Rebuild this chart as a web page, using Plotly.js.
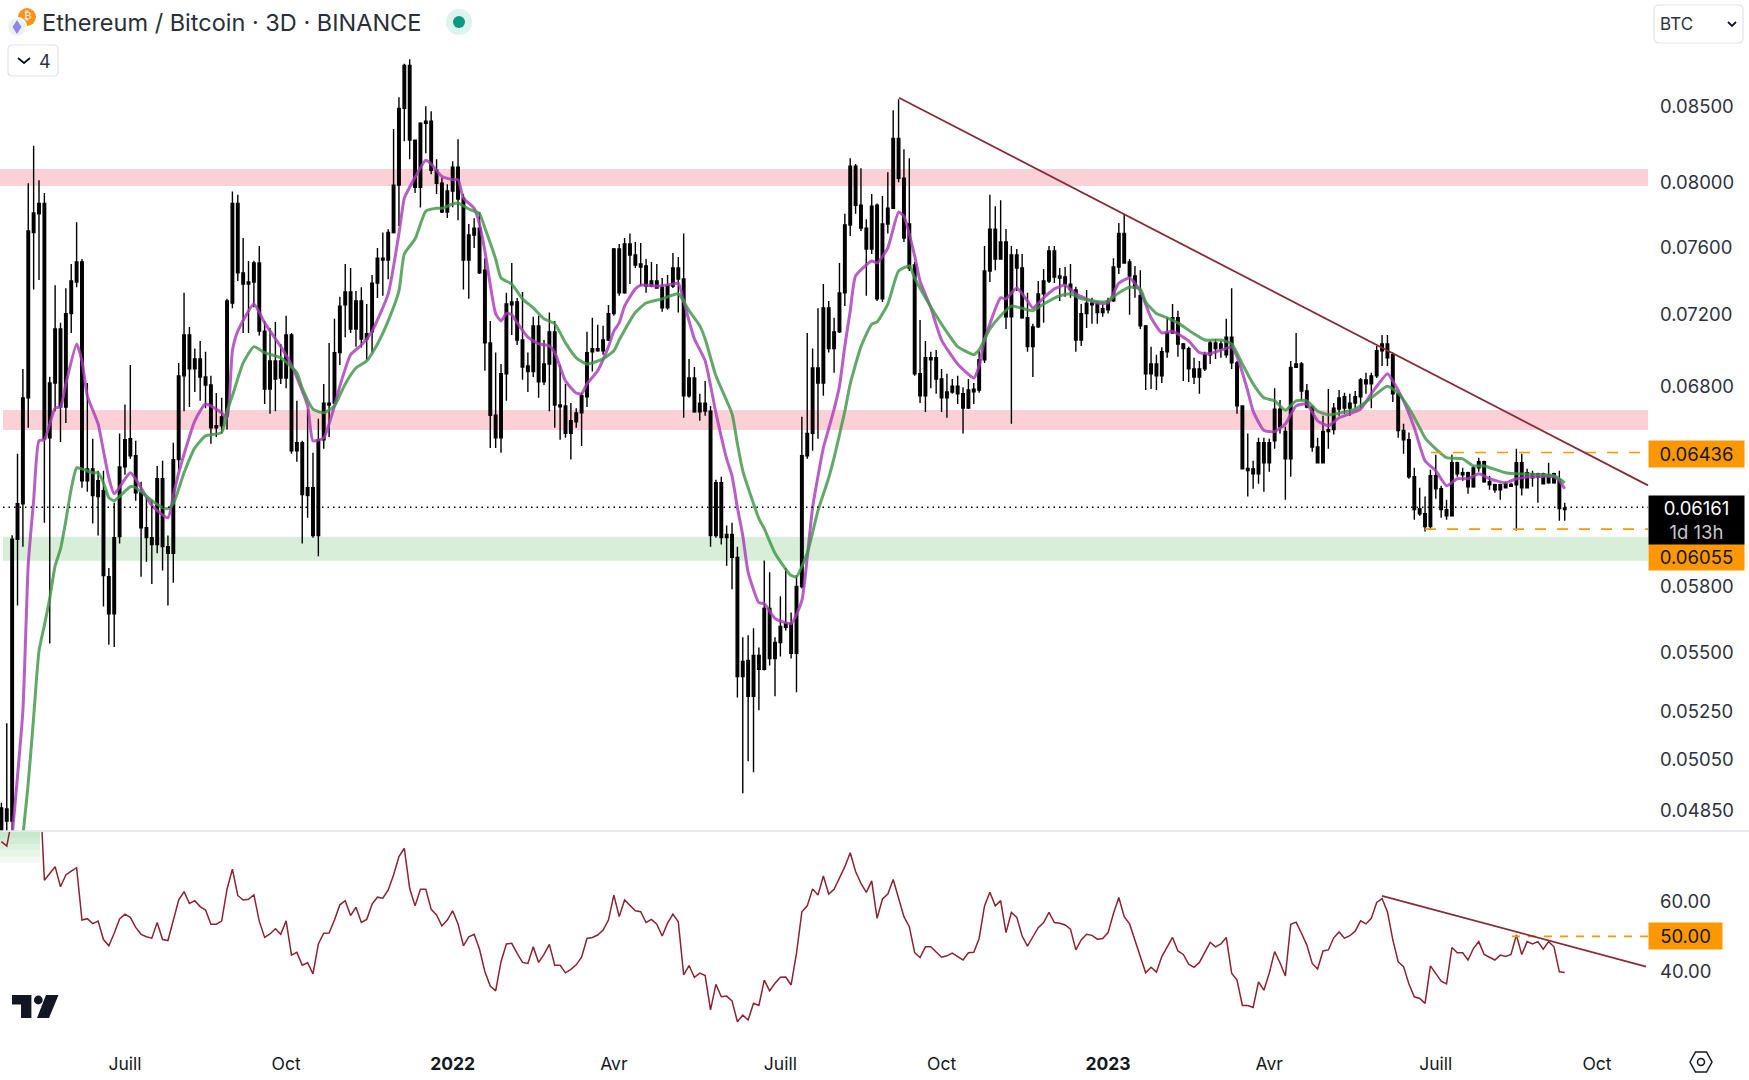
<!DOCTYPE html>
<html><head><meta charset="utf-8">
<script src="https://cdn.plot.ly/plotly-3.0.1.min.js"></script>
<style>html,body{margin:0;padding:0;background:#fff}#c{width:1749px;height:1080px}</style>
</head><body><div id="c"></div>
<script>
// All prices in 1e-5 BTC. Body top / bottom of each 3-day candle (all candles are black in the reference).
const bodyTop=[4848,4844,6006,6179,6723,7680,7790,7850,7850,6803,
7102,7102,7190,7379,7492,7492,6353,6353,6293,6243,
5830,6014,6363,6502,6507,6420,6233,6062,6014,6303,
6303,5971,6400,6842,7069,7069,6935,6935,6836,6792,
6575,6622,7263,7850,7850,7427,7373,7486,7486,7090,
6924,6924,6924,7069,7069,6487,6487,6258,6258,6502,
6695,6695,6970,7233,7315,7315,7263,7263,7075,7367,
7515,7515,7670,7965,8468,8763,8763,8256,8368,8381,
8381,8060,7977,7928,8080,8080,7883,7655,7697,7697,
7443,7024,6630,6853,7245,7257,7257,7040,6896,7120,
7120,6907,7086,7086,6685,6680,6601,6643,6734,6970,
6992,6992,7040,7190,7570,7570,7600,7600,7534,7480,
7468,7379,7379,7343,7350,7456,7456,7391,6830,6830,
6695,6695,6652,6283,6283,6029,6029,5920,5449,5453,
5475,5475,5684,5684,5532,5603,5616,5616,5784,6420,
6535,6885,6885,7223,7223,7086,7310,7716,8086,8086,
7839,7697,7833,7839,7722,7820,8268,8268,8009,7722,
7474,6853,6941,6941,6941,6825,6754,6786,6786,6745,
6765,6770,6930,7438,7691,7691,7612,7612,7534,7534,
7456,7166,7114,7304,7379,7558,7558,7409,7403,7361,
7327,7190,7250,7250,7245,7218,7263,7462,7664,7664,
7492,7409,7293,7120,6907,6907,6975,7080,7166,7166,
7018,6992,6880,6880,6958,7024,7024,7018,7056,7056,
6913,6680,6355,6353,6487,6487,6487,6663,6663,6545,
6888,6907,6907,6760,6674,6465,6545,6555,6668,6723,
6729,6695,6729,6820,6820,6842,6980,7018,7018,6958,
6745,6550,6502,6313,6155,6130,6318,6318,6253,6150,
6384,6384,6333,6333,6358,6389,6389,6288,6273,6273,
6278,6275,6384,6384,6333,6328,6328,6328,6323,6328,
6298,6158];
const bodyBot=[4755,4798,4798,6006,6179,6723,7670,7785,6507,6512,
6803,6674,6674,7190,7373,6293,6293,6219,6214,5835,
5660,5660,6019,6363,6420,6233,6062,6014,5981,5981,
5971,5940,5940,6400,6842,6880,6880,6836,6792,6565,
6565,6575,6627,7250,7427,7361,7361,7373,7090,6770,
6770,6825,6830,6830,6445,6445,6224,6219,6024,6024,
6502,6685,6695,6970,7240,7102,7102,7046,7046,7086,
7367,7504,7504,7670,7965,8468,8256,7952,7952,8368,
8060,7977,7796,7796,7928,7877,7504,7504,7655,7427,
7024,6630,6512,6512,6853,7240,7040,6890,6865,6865,
6809,6809,6907,6685,6675,6535,6535,6596,6643,6729,
6975,6980,6980,7040,7190,7310,7310,7534,7474,7462,
7350,7350,7338,7223,7223,7350,7391,6734,6734,6648,
6648,6652,6024,6024,6014,6014,5920,5384,5384,5300,
5300,5415,5415,5462,5462,5532,5599,5484,5484,5784,
6420,6535,6803,6803,6992,6992,7086,7310,7716,7839,
7697,7570,7570,7275,7275,7722,7820,8009,7636,7456,
6853,6734,6734,6930,6825,6723,6723,6754,6745,6668,
6668,6755,6765,6930,7438,7510,7510,7172,7172,7456,
7166,7003,7003,7114,7304,7379,7403,7397,7361,7327,
7040,7040,7190,7240,7196,7196,7212,7263,7462,7486,
7409,7338,7120,6853,6853,6842,6842,6975,7080,7018,
6992,6880,6836,6836,6880,6958,6992,6992,6958,6913,
6680,6353,6345,6328,6328,6384,6384,6497,6570,6404,
6404,6888,6760,6674,6465,6384,6384,6545,6555,6663,
6668,6668,6695,6729,6798,6798,6842,6980,6941,6745,
6550,6502,6313,6150,6130,6067,6067,6253,6150,6120,
6120,6328,6323,6263,6263,6358,6288,6273,6248,6248,
6258,6265,6273,6258,6258,6308,6313,6278,6283,6283,
6155,6150];
const highs=[4868,5187,6025,6430,6880,7978,8220,7996,7915,6837,
7355,7137,7336,7480,7733,7510,6803,6507,6343,6343,
5870,6184,6535,6687,6902,6497,6288,6209,6199,6368,
6394,6024,6487,6913,7310,7114,6992,7035,6974,6842,
6749,6723,7275,7925,7905,7636,7498,7500,7588,7148,
7108,7142,7018,7178,7080,6707,6497,6663,6435,6612,
6798,7024,7160,7287,7480,7456,7321,7343,7245,7415,
7576,7670,7690,8330,8543,8775,8806,8256,8375,8482,
8448,8132,8010,7971,8119,8262,7909,7722,7758,7796,
7515,7148,6970,6907,7310,7486,7280,7315,6970,7172,
7178,7040,7196,7148,6902,6798,6695,6668,6750,7086,
7166,7126,7120,7240,7576,7600,7636,7664,7612,7606,
7510,7492,7480,7397,7415,7546,7522,7664,6935,6890,
6745,6814,6680,6298,6313,6072,6086,5971,5555,5564,
5595,5510,5905,5850,5555,5739,5870,5666,5835,6622,
7080,6992,7220,7361,7263,7166,7486,7785,8138,8100,
8073,7752,7909,7850,7896,8047,8455,8530,8197,8138,
7492,7154,7035,6975,6985,6880,6853,6825,6842,6780,
6825,6803,6980,7588,7905,7833,7870,7691,7588,7570,
7540,7310,7132,7379,7450,7588,7588,7456,7462,7480,
7345,7245,7327,7281,7263,7245,7281,7515,7728,7785,
7510,7468,7443,7125,7003,6958,7000,7166,7245,7207,
7024,7003,6941,6924,6975,7035,7046,7035,7160,7336,
6924,6680,6535,6394,6512,6512,6507,6775,6712,6570,
6924,7080,6918,6798,6685,6512,6628,6770,6695,6765,
6750,6745,6760,6830,6859,6859,7007,7069,7069,6970,
6750,6585,6540,6358,6258,6214,6348,6425,6268,6199,
6425,6389,6358,6338,6368,6410,6394,6318,6278,6278,
6288,6283,6455,6430,6353,6343,6333,6333,6384,6333,
6343,6184];
const lows=[4700,4760,4760,5697,5971,6565,7330,7385,6086,5527,
6652,6490,6590,7080,7343,6258,6238,6082,6024,5693,
5522,5512,5986,6323,6404,6194,5830,5900,5796,5940,
5859,5697,5802,6348,6652,6674,6754,6707,6668,6481,
6517,6535,6555,7220,7379,7080,7080,7226,7065,6690,
6638,6652,6798,6775,6430,6389,5986,6110,6014,5925,
6455,6517,6690,6902,7056,7080,7003,6998,6930,6970,
7280,7293,7390,7664,7710,8249,8132,7915,7825,8170,
8035,7909,7790,7760,7826,7746,7330,7275,7576,7420,
6870,6460,6460,6435,6707,7069,7012,6820,6754,6836,
6723,6792,6652,6565,6502,6512,6400,6565,6470,6674,
6865,6975,6958,7035,7178,7293,7304,7361,7456,7350,
7310,7343,7338,7201,7212,7338,7196,6617,6723,6643,
6601,6628,5971,6014,5981,5881,5772,5295,4905,5032,
4988,5241,5410,5431,5300,5470,5585,5462,5317,5775,
6404,6445,6507,6734,6970,6859,7080,7233,7648,7785,
7680,7293,7540,7263,7257,7664,7815,7984,7612,7438,
6842,6695,6648,6775,6745,6648,6617,6745,6690,6535,
6663,6690,6750,6913,7373,7443,7510,7102,6585,7321,
7160,6975,6836,7108,7137,7367,7367,7263,7287,7281,
6975,7007,7108,7132,7132,7172,7190,7257,7420,7486,
7184,7281,7102,6765,6770,6765,6803,6941,7075,6947,
6814,6809,6798,6745,6869,6907,6935,6941,6941,6880,
6638,6350,6214,6253,6278,6238,6338,6455,6535,6199,
6313,6885,6707,6668,6440,6384,6384,6455,6530,6628,
6638,6628,6668,6668,6745,6668,6830,6896,6896,6701,
6512,6430,6303,6100,6120,6043,6057,6204,6110,6100,
6120,6313,6293,6228,6258,6338,6283,6248,6233,6199,
6258,6263,6048,6219,6258,6263,6184,6278,6278,6278,
6096,6096];

// Purple moving average: bar numbers and values read at those bars
const purpleBars=[2,4,5,6,7,8,10,11,12,14,
15,16,18,19,20,21,24,26,28,31,
32,33,36,38,41,42,43,44,47,49,
52,54,57,58,60,62,63,65,67,69,
72,74,75,76,79,80,82,84,85,86,
88,89,90,92,93,94,95,96,98,100,
102,103,105,107,108,109,111,113,114,115,
116,118,119,122,125,126,127,128,129,131,
133,135,136,137,138,139,141,142,144,147,
149,150,151,153,154,155,156,157,158,159,
162,163,165,167,168,170,171,173,175,178,
181,182,183,186,187,189,191,192,194,196,
198,200,204,206,208,210,212,214,216,218,
221,223,225,229,230,232,233,235,237,239,
241,243,245,247,249,253,255,258,259,261,
263,265,267,269,271,273,275,277,280,282,
285,289,290,291];
const purpleVals=[4740,5240,5890,6194,6497,6502,6668,6674,6798,7018,
6924,6734,6585,6445,6308,6228,6333,6258,6170,6110,
6219,6333,6601,6690,6643,6617,6980,7090,7245,7137,
7003,6902,6680,6497,6512,6680,6786,6958,7012,7090,
7304,7664,7883,7952,8125,8100,8020,8000,8000,7883,
7820,7722,7558,7190,7148,7190,7184,7137,7056,7018,
7007,6970,6814,6749,6745,6798,6870,7003,7090,7137,
7233,7333,7355,7350,7361,7367,7263,7148,7046,6924,
6643,6404,6318,6160,6024,5850,5710,5706,5639,5616,
5720,5920,6160,6460,6560,6663,6786,7007,7205,7409,
7498,7486,7576,7796,7770,7528,7379,7223,7040,6907,
6830,6896,7040,7281,7275,7338,7263,7223,7281,7333,
7355,7304,7251,7251,7367,7397,7321,7166,7080,7090,
7035,6970,6964,7000,6947,6760,6652,6550,6545,6585,
6680,6690,6601,6575,6617,6663,6745,6853,6814,6707,
6565,6394,6343,6268,6303,6303,6328,6303,6283,6303,
6313,6313,6293,6253];
// Green moving average
const greenBars=[4,5,6,7,8,9,10,11,12,13,
14,15,17,18,19,20,21,24,25,28,
30,31,32,34,36,38,41,42,43,45,
47,49,52,55,56,58,60,62,64,66,
68,70,72,74,75,77,79,81,82,84,
85,87,89,90,92,93,95,97,99,101,
103,105,107,109,112,114,115,118,120,123,
126,128,130,131,133,136,137,138,139,141,
142,144,147,148,150,152,154,155,157,158,
160,162,163,165,167,169,170,172,175,178,
180,181,182,184,186,188,191,192,194,197,
199,201,205,206,208,210,212,213,215,217,
219,222,224,227,229,231,233,235,237,239,
241,243,245,247,252,255,258,260,262,264,
265,267,269,272,274,276,280,282,289,291];
const greenVals=[4740,4945,5212,5495,5608,5730,5880,5960,6096,6253,
6358,6353,6333,6333,6283,6209,6194,6263,6258,6194,
6160,6155,6179,6333,6460,6522,6540,6652,6734,6913,
7003,6970,6941,6859,6775,6663,6643,6680,6798,6885,
6924,7018,7148,7321,7540,7630,7802,7820,7820,7846,
7852,7815,7786,7697,7510,7397,7361,7275,7223,7160,
7132,7024,6941,6907,6935,6980,7040,7196,7251,7275,
7304,7207,7120,7046,6842,6638,6481,6343,6258,6106,
6057,5940,5835,5830,5940,6145,6308,6410,6652,6798,
7003,7130,7142,7245,7438,7468,7397,7281,7130,7003,
6970,6958,6985,7102,7178,7233,7212,7207,7245,7293,
7304,7275,7257,7263,7310,7343,7333,7257,7190,7166,
7137,7075,7040,7040,7018,6907,6798,6723,6707,6657,
6707,6707,6652,6633,6663,6723,6786,6749,6668,6565,
6512,6455,6410,6404,6368,6368,6333,6328,6318,6283];
// RSI, one value per bar
const rsiVals=[77.3,76.0,84,90,92,93,92,98,66.2,68.2,
70.1,64.3,67.7,68.8,69.8,54.7,55.1,53.7,54.4,49.1,
47.3,50.9,55,56.4,55.5,52.6,50.6,49.9,49.5,54,
49.1,48.8,54.7,60.5,62.9,59.5,60.3,58.6,57.6,53.5,
53.5,54.4,63.6,69.4,61.8,60.5,60.7,62,54.4,49.7,
50.7,52.2,50.6,54.5,44.6,45.4,41.7,42.4,39.2,47.8,
50.9,51,54.7,59.1,60.3,56,58.4,54,54.9,59.3,
61.3,61,63.4,67.7,73,75.4,63.8,58.8,63.6,63.6,
57.8,56.2,53,54.7,57.4,53.6,47.3,49.9,50.6,46.3,
39.8,35.7,34.3,42.7,47.8,48,45.1,42.5,42.2,47,
42.5,44.8,47.7,41.7,41.7,39.5,40.5,41.8,44,49.4,
49.7,50.4,51.8,54.7,61.9,55.7,60.5,58.8,57.4,57.1,
54,54.9,53.5,50.1,53.8,56.4,54.2,38.9,41.6,38.2,
39.4,38.7,28.8,36.2,32.6,32.8,31.4,25.4,27.3,25.9,
30.7,30.1,37.4,34.3,36.5,38.2,38.3,36,45.1,57.1,
58.8,63.7,61.9,67.4,62.2,63.6,66.7,70.1,74.1,68.7,
65.3,62.7,66,55.2,60.8,62.2,66.4,61,55.7,52.8,
45.3,43.9,47,47,45.5,44,44.4,45.2,44.2,43.2,
45.3,45.4,49.4,58.8,62.7,58.8,60.3,51.1,56.9,55.5,
50.1,47.2,49.9,52.5,54,56.9,54,53.8,53.3,52.1,
46.1,49,50.6,50.3,49.2,49.4,51.1,56.6,61.2,55.7,
53.6,49,44.2,39.5,41.1,39.7,44.2,47,49.7,45.8,
44.8,42,41.1,42.5,45.6,48.3,47,47.8,49.7,39.4,
37.4,30.1,30.1,29.5,36.9,34.5,39.4,45.6,42.4,38.6,
53.5,54.1,50.9,47.5,42.2,40.6,45.8,46.1,49.6,51.3,
49.5,50.2,51.5,54.5,53.6,55.2,59.8,60.9,57.1,49,
42.7,41.3,36.3,32.6,32.1,30.7,41.5,39.4,37.1,36.3,
46.8,45.3,45.3,43.2,46.5,48.5,44.8,44,43.2,44.6,
44.2,44.8,50.4,44.8,48.5,47.8,48.5,46.3,48.5,47,
39.8,39.6];

const tickBars=[23,53,84,114,145,175,206,236,267,297];
const tickLabels=['Juill','Oct','<b>2022</b>','Avr','Juill','Oct','<b>2023</b>','Avr','Juill','Oct'];
const priceTicks=[0.085,0.08,0.076,0.072,0.068,0.058,0.055,0.0525,0.0505,0.0485];
const priceTickLabels=['0.08500','0.08000','0.07600','0.07200','0.06800','0.05800','0.05500','0.05250','0.05050','0.04850'];
const rsiTicks=[60,40];
const rsiTickLabels=['60.00','40.00'];
const zones=[{lo:7960,hi:8068,c:'#FBD0D6',fromLeft:0},{lo:6553,hi:6658,c:'#FBD0D6',fromLeft:3},{lo:5904,hi:6018,c:'#D8EED8',fromLeft:3}];
const lastPrice=6161, levelHigh=6436, levelLow=6055;

const T0=Date.UTC(2021,3,23), DAY=864e5;
const barDate=i=>new Date(T0+i*3*DAY).toISOString().slice(0,19);
const e5=v=>v/1e5;
const W=1648,PH=1040;
const px=x=>x/W, py=y=>1-y/PH;
const INK='#131722', AXIS='#2E3240', RED='#862B38', ORANGE='#FF9800', BORDER='#E0E3EB';
const FONT='Inter, "Noto Sans", sans-serif';
const allBars=bodyTop.map((_,i)=>barDate(i));

const traces=[
 {type:'candlestick',x:allBars,open:bodyBot.map(e5),close:bodyTop.map(e5),high:highs.map(e5),low:lows.map(e5),
  increasing:{line:{color:'#000',width:1.4},fillcolor:'#000'},decreasing:{line:{color:'#000',width:1.4},fillcolor:'#000'},
  whiskerwidth:0,xaxis:'x',yaxis:'y',hoverinfo:'skip',showlegend:false},
 {type:'scatter',mode:'lines',x:purpleBars.map(barDate),y:purpleVals.map(e5),line:{color:'rgba(168,60,186,0.82)',width:3,shape:'spline',smoothing:0.5},xaxis:'x',yaxis:'y',showlegend:false},
 {type:'scatter',mode:'lines',x:greenBars.map(barDate),y:greenVals.map(e5),line:{color:'rgba(64,150,72,0.82)',width:3,shape:'spline',smoothing:0.5},xaxis:'x',yaxis:'y',showlegend:false},
 {type:'scatter',mode:'lines',x:allBars,y:rsiVals,line:{color:'#8B2332',width:1.5},xaxis:'x',yaxis:'y2',showlegend:false}
];

const rr=(x0,y0,x1,y1,r)=>`M${px(x0+r)},${py(y0)} L${px(x1-r)},${py(y0)} Q${px(x1)},${py(y0)} ${px(x1)},${py(y0+r)} L${px(x1)},${py(y1-r)} Q${px(x1)},${py(y1)} ${px(x1-r)},${py(y1)} L${px(x0+r)},${py(y1)} Q${px(x0)},${py(y1)} ${px(x0)},${py(y1-r)} L${px(x0)},${py(y0+r)} Q${px(x0)},${py(y0)} ${px(x0+r)},${py(y0)} Z`;
const poly=pts=>'M'+pts.map(p=>px(p[0])+','+py(p[1])).join(' L')+' Z';
const paperShape=o=>Object.assign({xref:'paper',yref:'paper'},o);
const circle=(cx,cy,r,fill,line)=>paperShape({type:'circle',x0:px(cx-r),x1:px(cx+r),y0:py(cy+r),y1:py(cy-r),fillcolor:fill,line:line||{width:0}});

const shapes=[];
// support / resistance zones
zones.forEach(z=>shapes.push({type:'rect',xref:'paper',yref:'y',x0:px(z.fromLeft),x1:1,y0:e5(z.lo),y1:e5(z.hi),fillcolor:z.c,line:{width:0},layer:'below'}));
// RSI overbought fade
[[80.2,78.4,.42],[78.4,76.6,.34],[76.6,74.8,.26],[74.8,73,.18],[73,71.2,.10]].forEach(b=>
 shapes.push({type:'rect',xref:'paper',yref:'y2',x0:0,x1:px(40),y0:b[0],y1:b[1],fillcolor:'rgba(120,200,130,'+b[2]+')',line:{width:0},layer:'below'}));
// dotted last-price line, dashed levels
shapes.push({type:'line',xref:'paper',yref:'y',x0:px(3),x1:1,y0:e5(lastPrice),y1:e5(lastPrice),line:{color:'#000',width:1.5,dash:'1.5px,4px'}});
shapes.push({type:'line',xref:'paper',yref:'y',x0:px(1431),x1:1,y0:e5(levelHigh),y1:e5(levelHigh),line:{color:ORANGE,width:1.6,dash:'11px,11px'}});
shapes.push({type:'line',xref:'paper',yref:'y',x0:px(1425),x1:1,y0:e5(levelLow),y1:e5(levelLow),line:{color:ORANGE,width:1.6,dash:'11px,11px'}});
shapes.push({type:'line',xref:'paper',yref:'y2',x0:px(1512),x1:1,y0:50,y1:50,line:{color:ORANGE,width:1.6,dash:'8px,8px'}});
// trend lines
shapes.push({type:'line',xref:'paper',yref:'y',x0:px(899),x1:1,y0:0.0854,y1:0.0627,line:{color:RED,width:1.8}});
shapes.push({type:'line',xref:'paper',yref:'y2',x0:px(1382),x1:px(1646),y0:61.7,y1:41.3,line:{color:RED,width:1.8}});
// pane separator
shapes.push(paperShape({type:'line',x0:0,x1:1749/W,y0:py(831),y1:py(831),line:{color:BORDER,width:1.5}}));
// header chrome
shapes.push(circle(27,17,9,'#F7931A'));
shapes.push(circle(17,27,9.5,'#EEF0F8',{color:'#fff',width:1.5}));
shapes.push(paperShape({type:'path',path:poly([[17,20],[21.5,27],[17,34],[12.5,27]]),fillcolor:'#8E86E8',line:{width:0}}));
shapes.push(circle(459,22,13,'#DDF3EE'));
shapes.push(circle(459,22,6,'#089981'));
shapes.push(paperShape({type:'path',path:rr(8,45,58,76,4),fillcolor:'#fff',line:{color:BORDER,width:1.2}}));
shapes.push(paperShape({type:'path',path:`M${px(18)},${py(58)} L${px(24)},${py(63)} L${px(30)},${py(58)}`,fillcolor:'rgba(0,0,0,0)',line:{color:INK,width:1.8}}));
shapes.push(paperShape({type:'path',path:rr(1654,5,1743,43,5),fillcolor:'#fff',line:{color:BORDER,width:1.2}}));
shapes.push(paperShape({type:'path',path:`M${px(1728)},${py(22)} L${px(1732)},${py(26)} L${px(1736)},${py(22)}`,fillcolor:'rgba(0,0,0,0)',line:{color:INK,width:1.8}}));
// TradingView mark
shapes.push(paperShape({type:'path',path:poly([[12,995],[31.4,995],[31.4,1018],[21,1018],[21,1004.5],[12,1004.5]]),fillcolor:INK,line:{width:0}}));
shapes.push(circle(38.3,1000,4.4,INK));
shapes.push(paperShape({type:'path',path:poly([[46,995],[58.5,995],[49,1018],[37,1018]]),fillcolor:INK,line:{width:0}}));
// settings hexagon
shapes.push(paperShape({type:'path',path:poly([[1690,1062],[1695.5,1052],[1706.5,1052],[1712,1062],[1706.5,1072],[1695.5,1072]]),fillcolor:'#fff',line:{color:INK,width:1.5}}));
shapes.push(circle(1701,1062,3.5,'#fff',{color:INK,width:1.5}));

const tag=(text,yc,h,w,bg,color)=>({xref:'paper',yref:'paper',x:1,y:py(yc),xanchor:'left',yanchor:'middle',text:text,showarrow:false,
  bgcolor:bg,width:w,height:h,borderpad:0,align:'center',valign:'middle',font:{family:FONT,size:18.5,color:color}});
const annotations=[
 tag('0.06436',454,26,95,ORANGE,'#131722'),
 tag('0.06055',557,26,95,ORANGE,'#131722'),
 tag('0.06161<br><span style="color:#c8c8c8">1d 13h</span>',520,48,95,'#000','#fff'),
 tag('50.00',936,26,73,ORANGE,'#131722'),
 {xref:'paper',yref:'paper',x:px(28),y:py(16),xanchor:'center',yanchor:'middle',text:'₿',showarrow:false,font:{family:'DejaVu Sans',size:11,color:'#fff'}},
 {xref:'paper',yref:'paper',x:px(45),y:py(61),xanchor:'center',yanchor:'middle',text:'4',showarrow:false,font:{family:FONT,size:18,color:AXIS}},
 {xref:'paper',yref:'paper',x:px(1658),xanchor:'left',yanchor:'middle',y:py(24),text:'BTC',showarrow:false,font:{family:FONT,size:17,color:AXIS}}
];

const layout={
 width:1749,height:1080,paper_bgcolor:'#fff',plot_bgcolor:'rgba(0,0,0,0)',showlegend:false,
 margin:{l:0,r:101,t:0,b:40,pad:0},boxgap:0.33,boxmode:'overlay',dragmode:false,hovermode:false,
 font:{family:FONT,color:AXIS,size:18},
 title:{text:'Ethereum / Bitcoin · 3D · BINANCE',xref:'paper',yref:'container',x:px(42),xanchor:'left',y:1-23/1080,yanchor:'middle',font:{family:FONT,size:23.5,color:'#2A2E39'}},
 xaxis:{type:'date',anchor:'y2',domain:[0,1],range:[barDate(-0.26),barDate(306.5)],rangeslider:{visible:false},
  tickmode:'array',tickvals:tickBars.map(barDate),ticktext:tickLabels,ticks:'',showgrid:false,zeroline:false,showline:false,
  tickfont:{family:FONT,size:17.5,color:INK},ticklabelstandoff:11},
 yaxis:{type:'log',domain:[1-831/PH,1],range:[-1.32239,-1.03471],side:'right',anchor:'x',
  tickmode:'array',tickvals:priceTicks,ticktext:priceTickLabels,ticks:'',showgrid:false,zeroline:false,showline:false,
  tickfont:{family:FONT,size:18.5,color:AXIS},ticklabelstandoff:11,ticklabelshift:3},
 yaxis2:{domain:[0,1-832/PH],range:[20.14,80.09],side:'right',anchor:'x',
  tickmode:'array',tickvals:rsiTicks,ticktext:rsiTickLabels,ticks:'',showgrid:false,zeroline:false,showline:false,
  tickfont:{family:FONT,size:18.5,color:AXIS},ticklabelstandoff:11},
 shapes:shapes,annotations:annotations
};
Plotly.newPlot('c',traces,layout,{displayModeBar:false,staticPlot:true});
</script></body></html>
